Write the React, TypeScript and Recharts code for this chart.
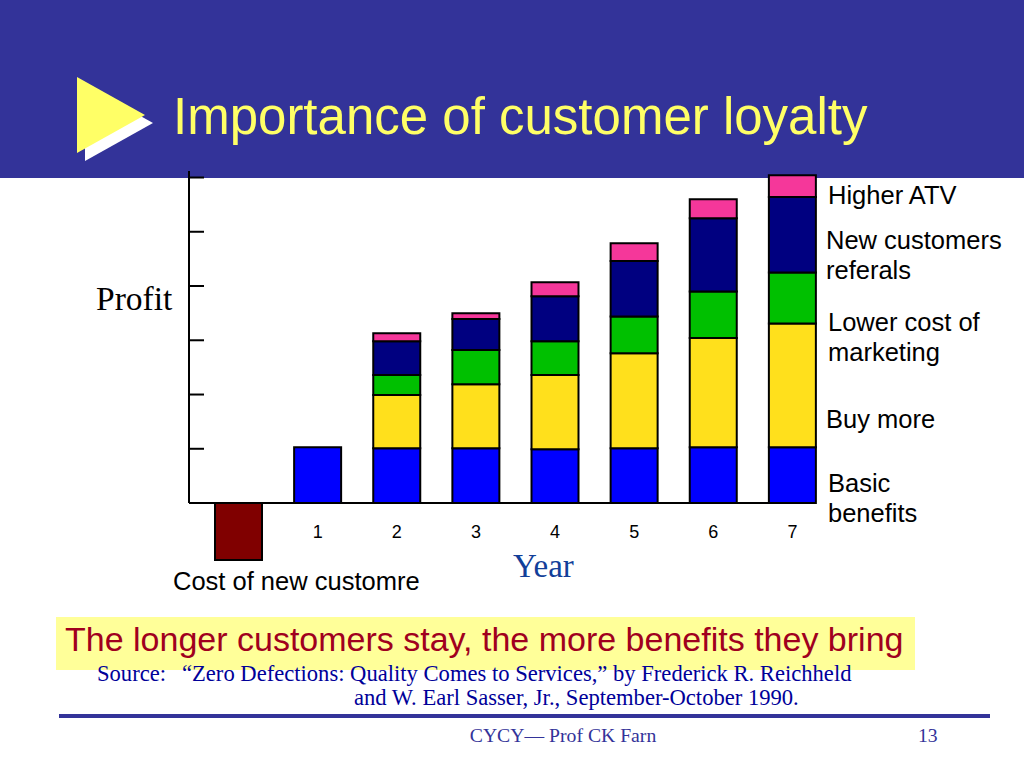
import { Bar, BarChart, ReferenceLine, XAxis, YAxis } from "recharts";

// profit per customer by year, stacked by source
const years = ["", "1", "2", "3", "4", "5", "6", "7"];
const costOfNewCustomer = [-1.05, null, null, null, null, null, null, null];
const basicBenefits = [null, 1.03, 1.01, 1.01, 0.99, 1.01, 1.03, 1.03];
const buyMore = [null, null, 0.98, 1.18, 1.37, 1.75, 2.01, 2.28];
const lowerMarketingCost = [null, null, 0.37, 0.63, 0.62, 0.68, 0.86, 0.94];
const referrals = [null, null, 0.62, 0.57, 0.83, 1.02, 1.35, 1.39];
const higherAtv = [null, null, 0.15, 0.11, 0.26, 0.33, 0.35, 0.4];
const profitTicks = [1, 2, 3, 4, 5, 6];
const profitTop = 6.12;

const data = years.map((year, i) => ({
  year,
  cost: costOfNewCustomer[i],
  basic: basicBenefits[i],
  buyMore: buyMore[i],
  lowerCost: lowerMarketingCost[i],
  referrals: referrals[i],
  atv: higherAtv[i],
}));

const SANS = '"Liberation Sans", Arial, sans-serif';
const SERIF = '"Liberation Serif", "Times New Roman", serif';

function YearTick({ x, y, payload }: any) {
  return (
    <text x={x} y={y - 22} textAnchor="middle" fontSize={18} fontFamily={SANS} fill="#000">
      {payload.value}
    </text>
  );
}

// inward tick marks on the profit axis
function ProfitTick({ x, y }: any) {
  return <line x1={x} x2={x + 15} y1={y} y2={y} stroke="#000" strokeWidth={2} />;
}

export default function App() {
  return (
    <div
      style={{
        position: "fixed",
        left: 0,
        top: 0,
        width: 1024,
        height: 768,
        background: "#fff",
        overflow: "hidden",
      }}
    >
      <div style={{ position: "absolute", left: 0, top: 0, width: 1024, height: 178, background: "#333399" }} />

      <div style={{ position: "absolute", left: 0, top: 0 }}>
        <BarChart
          width={1024}
          height={768}
          data={data}
          stackOffset="sign"
          barSize={47}
          margin={{ top: 171, right: 208, bottom: 178, left: 188 }}
        >
          <XAxis
            dataKey="year"
            height={30}
            axisLine={false}
            tickLine={false}
            tickSize={0}
            tickMargin={0}
            interval={0}
            padding={{ left: 10, right: -16 }}
            tick={<YearTick />}
          />
          {/* plain number axis, only used to pin the profit axis stem to the plot's left edge */}
          <XAxis xAxisId="frame" type="number" domain={[0, 1]} hide />
          <YAxis
            width={1}
            domain={[-1.05, profitTop]}
            ticks={profitTicks}
            axisLine={false}
            tickLine={false}
            tickSize={0}
            tickMargin={0}
            tick={<ProfitTick />}
          />
          <ReferenceLine
            xAxisId="frame"
            segment={[
              { x: 0, y: 0 },
              { x: 0, y: profitTop },
            ]}
            stroke="#000"
            strokeWidth={2}
          />
          <ReferenceLine y={0} stroke="#000" strokeWidth={2} />
          <Bar dataKey="cost" stackId="a" fill="#800000" stroke="#000" strokeWidth={2} isAnimationActive={false} />
          <Bar dataKey="basic" stackId="a" fill="#0000ff" stroke="#000" strokeWidth={2} isAnimationActive={false} />
          <Bar dataKey="buyMore" stackId="a" fill="#ffe01c" stroke="#000" strokeWidth={2} isAnimationActive={false} />
          <Bar dataKey="lowerCost" stackId="a" fill="#00c000" stroke="#000" strokeWidth={2} isAnimationActive={false} />
          <Bar dataKey="referrals" stackId="a" fill="#000080" stroke="#000" strokeWidth={2} isAnimationActive={false} />
          <Bar dataKey="atv" stackId="a" fill="#f5379a" stroke="#000" strokeWidth={2} isAnimationActive={false} />
        </BarChart>
      </div>

      <svg
        width={1024}
        height={768}
        style={{ position: "absolute", left: 0, top: 0, pointerEvents: "none" }}
      >
        <polygon points="85,85 85,161 153,123" fill="#fff" />
        <polygon points="77,77 77,153 145,115" fill="#ffff66" />
        <text x={173} y={134} fontSize={51} fontFamily={SANS} fill="#ffff66">
          Importance of customer loyalty
        </text>

        <g fontFamily={SANS} fontSize={25.5} fill="#000">
          <text x={828} y={204}>Higher ATV</text>
          <text x={826} y={249}>New customers</text>
          <text x={826} y={279}>referals</text>
          <text x={828} y={331}>Lower cost of</text>
          <text x={828} y={361}>marketing</text>
          <text x={826} y={428}>Buy more</text>
          <text x={828} y={492}>Basic</text>
          <text x={828} y={522}>benefits</text>
          <text x={173} y={590}>Cost of new customre</text>
        </g>

        <text x={96} y={310} fontSize={33.5} fontFamily={SERIF} fill="#000">
          Profit
        </text>
        <text x={513} y={577} fontSize={33} fontFamily={SERIF} fill="#123f99">
          Year
        </text>

        <rect x={56} y={617} width={859} height={53} fill="#ffff99" />
        <text x={65} y={651} fontSize={34} fontFamily={SANS} fill="#a0001e">
          The longer customers stay, the more benefits they bring
        </text>

        <g fontFamily={SERIF} fontSize={22.6} fill="#000099">
          <text x={97} y={681}>Source:</text>
          <text x={182} y={681}>“Zero Defections: Quality Comes to Services,” by Frederick R. Reichheld</text>
          <text x={354} y={705}>and W. Earl Sasser, Jr., September-October 1990.</text>
        </g>

        <rect x={59} y={714} width={931} height={4} fill="#333399" />
        <g fontFamily={SERIF} fontSize={19.7} fill="#333399">
          <text x={563} y={742} textAnchor="middle">CYCY— Prof CK Farn</text>
          <text x={918} y={742}>13</text>
        </g>
      </svg>
    </div>
  );
}
